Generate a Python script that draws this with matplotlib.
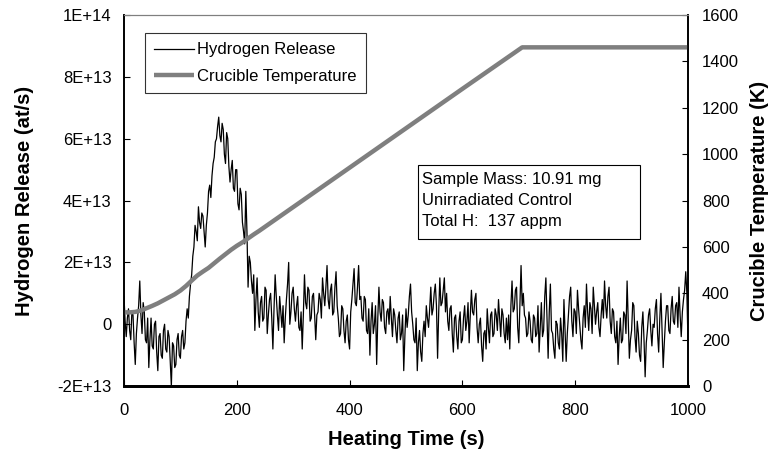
import numpy as np
import matplotlib.pyplot as plt
from matplotlib.patches import Rectangle

plt.rcParams['font.family'] = ['Liberation Sans', 'DejaVu Sans']

# hydrogen release, units of 1E+13 at/s, one reading every 2 s from 0 to 1000 s
h_time = np.arange(0, 1001, 2)
h_release = [
    0.9, 0.1, -0.4, 0.2, 0.5, -0.2, -0.5, 0.4, 0.3, -0.6,
    -1.3, -0.3, 0.2, 0.6, 1.4, 0.3, -0.3, 0.7, 0.4, -0.5,
    -0.6, 0.2, -1.4, -0.5, 0.2, -0.7, -0.8, 0.0, 0.1, -0.9,
    -1.5, -0.4, -0.3, -1.0, -1.1, -0.2, 0.0, -0.8, -0.9, -0.2,
    -0.4, -1.2, -2.0, -0.6, -0.7, -1.4, -1.3, -0.5, -0.3, -1.0,
    -1.1, -0.4, -0.2, -0.8, -0.6, 0.1, 0.5, 0.2, 0.9, 1.3,
    1.6, 2.2, 2.5, 3.2, 3.0, 2.7, 3.8, 3.3, 3.1, 3.6,
    3.5, 3.0, 2.5, 3.2, 3.6, 4.3, 4.5, 4.1, 4.8, 5.2,
    5.4, 5.9, 6.0, 6.4, 6.7, 6.1, 5.9, 6.5, 6.3, 5.5,
    5.2, 6.2, 6.0, 5.1, 4.6, 5.0, 5.3, 4.4, 4.3, 5.0,
    5.0, 3.9, 3.7, 4.4, 4.2, 3.3, 3.0, 2.6, 4.3, 3.0,
    1.2, 2.2, 2.0, 1.4, 1.0, 1.6, -0.2, 0.8, 1.5, 0.4,
    -0.1, 0.7, 0.9, 0.1, 0.2, 1.2, 1.1, -0.3, 0.3, 0.8,
    1.0, 0.2, -0.8, 0.5, 1.6, 0.9, 0.3, -0.2, 0.9, 0.4,
    -0.1, 0.6, -0.6, 0.2, 0.8, 1.3, 2.0, 0.0, 0.4, 1.0,
    1.2, 0.5, 0.1, 0.6, 0.9, -0.1, -0.2, 0.4, -0.8, 0.3,
    1.6, 0.7, 0.5, 1.2, 1.1, 0.1, 0.2, 0.9, 1.0, 0.3,
    -0.5, 0.3, 0.4, 1.0, 0.8, 0.2, 1.5, 1.0, 0.6, 1.2,
    1.9, 0.8, 0.5, 1.1, 1.3, 0.3, 0.4, 1.2, 1.7, 0.6,
    0.2, -0.4, -0.3, 0.6, 0.5, -0.2, -0.6, 0.1, 0.3, -0.5,
    -0.8, 0.4, 0.8, 1.3, 1.8, 0.7, 0.6, 1.2, 1.9, 0.8,
    0.9, 0.2, 0.1, 0.9, 0.8, -0.2, -0.3, 0.5, -1.0, 0.1,
    0.7, -0.3, 0.0, 0.6, -1.3, 0.2, 1.2, 0.4, 0.1, 0.8,
    0.7, -0.1, -0.3, 0.4, 0.5, 0.0, 0.9, 0.2, -0.4, 0.5,
    0.3, -0.2, -0.6, 0.2, 0.4, -0.5, -0.3, 0.3, -1.5, -0.4,
    0.5, -0.1, 0.3, 0.9, 1.3, 0.4, 0.0, -0.5, -0.6, 0.2,
    -1.5, -0.6, -0.2, -0.9, -1.2, -0.3, 0.1, -0.4, 0.6, 0.2,
    -0.1, 0.5, 1.2, 0.3, 0.5, 1.0, 1.3, 0.6, -1.1, 0.4,
    1.5, 0.6, 0.7, 1.1, 1.5, 0.4, 1.0, 0.1, -0.2, 0.5,
    0.6, -0.3, -0.9, 0.2, 0.3, -0.4, -0.8, 0.1, 0.4, -0.6,
    -0.5, 0.2, 0.6, -0.2, 0.1, 0.7, -0.6, 0.3, 1.1, 0.4,
    0.3, 0.8, 1.0, -0.1, -0.6, 0.0, 0.2, -0.7, -1.2, -0.3,
    -0.2, -0.8, 0.5, -0.1, -0.6, 0.3, 0.4, -0.4, -0.3, 0.5,
    0.3, -0.2, 0.8, 0.2, -0.4, 0.5, 0.3, -0.3, -0.6, 0.2,
    -0.5, 0.3, -0.8, 0.6, 1.4, 0.4, 0.5, 1.1, 1.2, -0.1,
    -0.6, 0.7, 1.9, 0.6, 1.0, 0.3, 0.2, -0.4, -0.3, 0.4,
    0.1, -0.5, -0.6, 0.3, 0.2, -0.4, -0.3, 0.6, -0.9, -0.1,
    0.7, -0.4, -0.2, 0.9, 1.5, 0.2, -1.1, 0.4, 1.3, -0.2,
    -0.3, -0.8, -1.1, 0.1, 0.0, -0.6, -0.8, 0.2, -0.3, -1.2,
    0.8, -0.2, -1.2, -0.3, 0.3, 0.9, 1.2, 0.1, -0.4, 0.5,
    0.4, -0.3, 1.1, 0.5, 0.0, -0.5, -0.8, 0.2, 0.6, -0.1,
    1.3, 0.4, -0.2, 0.7, 0.5, -0.3, 1.2, 0.6, 0.0, 0.4,
    0.7, -0.1, -0.4, 0.3, 0.8, 0.2, 1.4, 0.6, 0.2, 0.9,
    1.2, 0.1, -0.3, 0.5, 0.4, -0.4, -0.6, 0.1, -1.3, -0.4,
    0.2, -0.6, -0.5, 0.4, 0.3, -0.3, 1.4, 0.2, -1.1, -0.5,
    -0.2, 0.7, 0.6, -0.4, -0.9, 0.1, -0.3, -1.0, -1.2, -0.1,
    0.4, -0.5, -1.7, -0.6, -0.2, 0.3, 0.5, -0.2, -0.7, 0.0,
    -0.1, 0.5, 0.8, -0.3, -0.9, 0.2, 1.0, -0.2, -1.4, -0.6,
    0.1, 0.6, 0.6, -0.2, -0.3, 0.5, 0.9, 0.1, 0.0, 0.6,
    0.7, -0.1, 1.2, 0.3, -0.4, 0.4, 0.8, 1.1, 1.7, 1.0,
    -0.6,
]

# crucible temperature (K)
t_time = [0, 10, 20, 30, 40, 50, 60, 70, 80, 90, 100, 110, 120, 130, 140,
          150, 160, 170, 180, 190, 200, 210, 220, 230, 240, 300, 400, 500,
          600, 706, 1000]
t_temp = [318, 318, 320, 326, 336, 346, 357, 370, 383, 396, 412, 432, 455,
          477, 494, 510, 530, 550, 569, 588, 605, 620, 637, 654, 670, 772,
          942, 1112, 1282, 1461, 1461]

left_ticks = [-2, 0, 2, 4, 6, 8, 10]
left_labels = ['-2E+13', '0', '2E+13', '4E+13', '6E+13', '8E+13', '1E+14']

note = "Sample Mass: 10.91 mg\nUnirradiated Control\nTotal H:  137 appm"

fig = plt.figure(figsize=(7.72, 4.58), dpi=100)
ax = fig.add_axes([0.1606, 0.157, 0.7306, 0.81])
ax2 = ax.twinx()

l1, = ax.plot(h_time, h_release, color='black', lw=0.9, label='Hydrogen Release')
l2, = ax2.plot(t_time, t_temp, color='#7f7f7f', lw=3.2, label='Crucible Temperature',
               solid_capstyle='butt', clip_on=False)

ax.set_xlim(0, 1000)
ax.set_ylim(-2, 10)
ax2.set_ylim(0, 1600)
ax.set_xticks([0, 200, 400, 600, 800, 1000])
ax.set_yticks(left_ticks)
ax.set_yticklabels(left_labels)
ax2.set_yticks(range(0, 1601, 200))

ax.tick_params(axis='both', direction='in', length=4, labelsize=12, pad=9)
ax.tick_params(axis='x', pad=12)
ax2.tick_params(axis='y', direction='in', length=4, labelsize=12, pad=10)

for a in (ax, ax2):
    a.spines['top'].set_color('#7f7f7f')
    a.spines['left'].set_linewidth(1.2)
    a.spines['right'].set_linewidth(1.2)
    a.spines['bottom'].set_linewidth(2)

ax.set_xlabel('Heating Time (s)', fontsize=14.5, fontweight='bold', labelpad=9)
ax.set_ylabel('Hydrogen Release (at/s)', fontsize=14.5, fontweight='bold', labelpad=17)
ax2.set_ylabel('Crucible Temperature (K)', fontsize=14.5, fontweight='bold', labelpad=8)

leg = ax2.legend(handles=[l1, l2], loc='upper left', bbox_to_anchor=(0.037, 0.951),
                 borderaxespad=0, fontsize=12, fancybox=False, handlelength=2.4,
                 handletextpad=0.2, borderpad=0.55, labelspacing=0.7)
leg.get_frame().set_edgecolor('black')
leg.get_frame().set_linewidth(0.8)

ax2.add_patch(Rectangle((0.521, 0.396), 0.394, 0.2, transform=ax2.transAxes,
                        fc='white', ec='black', lw=0.8, zorder=5))
ax2.text(0.528, 0.578, note, transform=ax2.transAxes, fontsize=12,
         va='top', ha='left', linespacing=1.5, zorder=6)

fig.savefig('out.png', dpi=100)
